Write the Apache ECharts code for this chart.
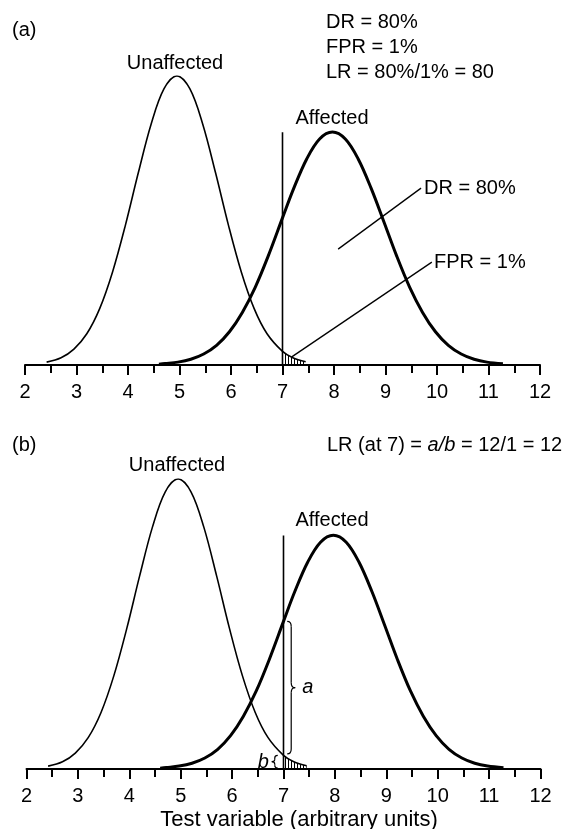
<!DOCTYPE html>
<html><head><meta charset="utf-8">
<script src="https://cdn.jsdelivr.net/npm/echarts@6.0.0/dist/echarts.min.js"></script>
<style>html,body{margin:0;padding:0;background:#fff}#c{width:580px;height:829px}</style>
</head><body><div id="c"></div>
<script>
// ---- data ----
const xTicks = [2, 3, 4, 5, 6, 7, 8, 9, 10, 11, 12];
const unaffectedX = [2.42, 2.7, 2.95, 3.2, 3.45, 3.7, 3.95, 4.2, 4.45, 4.7, 4.95, 5.2, 5.45, 5.7, 5.95, 6.2, 6.45, 6.7, 7.0, 7.2, 7.45];
const unaffectedY = [1.0, 2.5, 5.5, 10.8, 19.5, 32.2, 48.4, 66.5, 83.4, 95.6, 100, 95.6, 83.4, 66.5, 48.4, 32.2, 19.5, 10.8, 4.7, 2.5, 1.1];
const affectedX = [4.6, 4.72, 4.97, 5.22, 5.47, 5.72, 5.97, 6.22, 6.47, 6.72, 7.0, 7.22, 7.47, 7.72, 7.97, 8.22, 8.47, 8.72, 8.97, 9.22, 9.47, 9.72, 9.97, 10.22, 10.47, 10.72, 10.97, 11.28];
const affectedY = [0.3, 0.5, 1.0, 2.0, 3.8, 6.8, 11.5, 18.2, 26.9, 37.6, 50.9, 61.2, 71.3, 78.2, 80.6, 78.2, 71.3, 61.2, 49.5, 37.6, 26.9, 18.2, 11.5, 6.8, 3.8, 2.0, 1.0, 0.4];
const cutoff = 7;
const cutoffTop = 80.5;
const drLeader = [[8.08, 40.1], [9.69, 61.2]];
const fprLeader = [[7.18, 2.8], [9.90, 35.6]];

// ---- build ----
const FONT = '"Liberation Sans", Arial, sans-serif';
const pair = (xs, ys) => xs.map((x, i) => [x, ys[i]]);
const unaffected = pair(unaffectedX, unaffectedY);
const affected = pair(affectedX, affectedY);
const tail = unaffected.filter(p => p[0] >= cutoff);
const uAtCut = unaffectedY[unaffectedX.indexOf(cutoff)];
const aAtCut = affectedY[affectedX.indexOf(cutoff)];

const hatch = document.createElement('canvas');
hatch.width = 3; hatch.height = 4;
const hc = hatch.getContext('2d');
hc.fillStyle = '#000'; hc.fillRect(0, 0, 1, 4);

function xAxisFor(gi) {
  return {
    gridIndex: gi, type: 'value', min: xTicks[0], max: xTicks[xTicks.length - 1], interval: 1,
    axisLine: {show: true, onZero: false, lineStyle: {color: '#000', width: 2}},
    axisTick: {show: true, length: 10, lineStyle: {color: '#000', width: 2}},
    minorTick: {show: true, splitNumber: 2, length: 8, lineStyle: {color: '#000', width: 2}},
    splitLine: {show: false},
    axisLabel: {color: '#000', fontSize: 20, fontFamily: FONT, margin: 17}
  };
}
function yAxisFor(gi) {
  return {gridIndex: gi, type: 'value', min: 0, max: 100, show: false, splitLine: {show: false}};
}
function seriesFor(gi) {
  const base = {xAxisIndex: gi, yAxisIndex: gi, type: 'line', symbol: 'none', silent: true, animation: false};
  const s = [
    Object.assign({}, base, {data: tail, smooth: 0.35, lineStyle: {width: 0}, areaStyle: {color: {image: hatch, repeat: 'repeat'}, opacity: 1}}),
    Object.assign({}, base, {data: unaffected, smooth: 0.35, lineStyle: {color: '#000', width: 1.6}}),
    Object.assign({}, base, {data: affected, smooth: 0.35, lineStyle: {color: '#000', width: 3}}),
    Object.assign({}, base, {data: [[cutoff, 0], [cutoff, cutoffTop]], lineStyle: {color: '#000', width: 1.6}})
  ];
  if (gi === 0) {
    s.push(Object.assign({}, base, {data: drLeader, lineStyle: {color: '#000', width: 1.3}}));
    s.push(Object.assign({}, base, {data: fprLeader, lineStyle: {color: '#000', width: 1.3}}));
  }
  return s;
}

const option = {
  backgroundColor: '#fff',
  animation: false,
  grid: [
    {left: 25, top: 76, width: 515, height: 289},
    {left: 26.5, top: 479, width: 514, height: 290}
  ],
  xAxis: [xAxisFor(0), xAxisFor(1)],
  yAxis: [yAxisFor(0), yAxisFor(1)],
  series: seriesFor(0).concat(seriesFor(1))
};

const chart = echarts.init(document.getElementById('c'));
chart.setOption(option);

const px = (gi, p) => chart.convertToPixel({gridIndex: gi}, p);
function txt(text, x, y, align, size, fontPrefix) {
  return {type: 'text', silent: true, style: {text: text, x: x, y: y, fill: '#000', font: (fontPrefix || '') + (size || 20) + 'px ' + FONT, align: align || 'left', verticalAlign: 'middle'}};
}
// curly brace made of bezier curves and lines; dir 1 = tip points right
function brace(x, y1, y2, w, dir) {
  const ym = (y1 + y2) / 2, h = w * dir, r = Math.min(5, (y2 - y1) / 5);
  const st = {stroke: '#000', fill: 'none', lineWidth: 1.2};
  const bz = (x1, yy1, cx, cy, x2, yy2) => ({type: 'bezierCurve', silent: true, shape: {x1: x1, y1: yy1, cpx1: cx, cpy1: cy, x2: x2, y2: yy2}, style: st});
  const ln = (x1, yy1, x2, yy2) => ({type: 'line', silent: true, shape: {x1: x1, y1: yy1, x2: x2, y2: yy2}, style: st});
  return [
    bz(x - h, y1, x, y1, x, y1 + r),
    ln(x, y1 + r, x, ym - r),
    bz(x, ym - r, x, ym, x + h, ym),
    bz(x + h, ym, x, ym, x, ym + r),
    ln(x, ym + r, x, y2 - r),
    bz(x, y2 - r, x, y2, x - h, y2)
  ];
}
const aTop = px(1, [7.15, aAtCut]);
const aBot = px(1, [7.15, uAtCut + 0.5]);
const bTop = px(1, [6.83, uAtCut]);
const bBot = px(1, [6.83, 0]);

chart.setOption({
  graphic: [
    txt('(a)', 12, 30),
    txt('DR = 80%', 326, 22),
    txt('FPR = 1%', 326, 47),
    txt('LR = 80%/1% = 80', 326, 72),
    txt('Unaffected', 175, 63, 'center'),
    txt('Affected', 332, 118, 'center'),
    txt('DR = 80%', 424, 188),
    txt('FPR = 1%', 434, 262),
    txt('(b)', 12, 445),
    {type: 'text', silent: true, style: {text: '{n|LR (at 7) = }{i|a/b}{n| = 12/1 = 12}', x: 327, y: 445, verticalAlign: 'middle',
      rich: {n: {fontSize: 20, fontFamily: FONT, fill: '#000'}, i: {fontSize: 20, fontFamily: FONT, fontStyle: 'italic', fill: '#000'}}}},
    txt('Unaffected', 177, 465, 'center'),
    txt('Affected', 332, 520, 'center'),
    txt('a', aTop[0] + 11, (aTop[1] + aBot[1]) / 2, 'left', 20, 'italic '),
    txt('b', bTop[0] - 6, (bTop[1] + bBot[1]) / 2, 'right', 20, 'italic '),
    txt('Test variable (arbitrary units)', 299, 820, 'center', 22)
  ].concat(brace(aTop[0], aTop[1], aBot[1], 4, 1), brace(bTop[0], bTop[1], bBot[1] - 1, 3, -1))
});
</script>
</body></html>
